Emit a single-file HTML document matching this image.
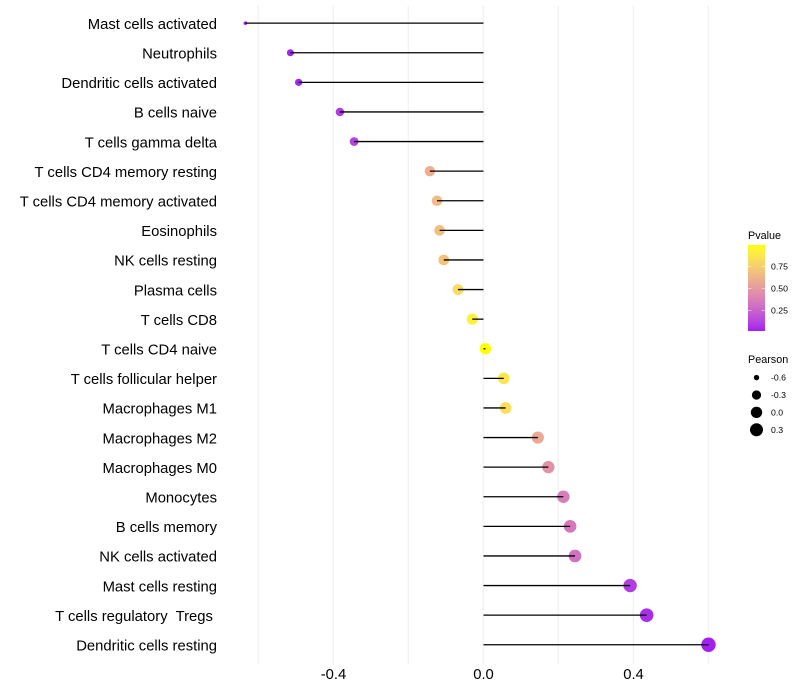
<!DOCTYPE html>
<html lang="en">
<head>
<meta charset="utf-8">
<title>Immune cell correlation lollipop chart</title>
<style>
html,body{margin:0;padding:0;background:#fff;}
svg{display:block;font-family:"Liberation Sans",sans-serif;}
text{white-space:pre;}
</style>
</head>
<body>
<svg id="chart" width="800" height="700" viewBox="0 0 800 700" xmlns="http://www.w3.org/2000/svg">
  <defs>
    <linearGradient id="pvalue-gradient" x1="0" y1="1" x2="0" y2="0"></linearGradient>
  </defs>
</svg>
<script>
const categories = ["Mast cells activated","Neutrophils","Dendritic cells activated","B cells naive","T cells gamma delta","T cells CD4 memory resting","T cells CD4 memory activated","Eosinophils","NK cells resting","Plasma cells","T cells CD8","T cells CD4 naive","T cells follicular helper","Macrophages M1","Macrophages M2","Macrophages M0","Monocytes","B cells memory","NK cells activated","Mast cells resting","T cells regulatory  Tregs ","Dendritic cells resting"];
const pearsonValues = [-0.635,-0.515,-0.493,-0.383,-0.345,-0.143,-0.124,-0.117,-0.106,-0.068,-0.03,0.005,0.054,0.059,0.145,0.173,0.213,0.231,0.244,0.391,0.435,0.6];
const pValues = [0.001,0.012,0.02,0.08,0.11,0.6,0.66,0.68,0.7,0.82,0.93,1.0,0.87,0.83,0.57,0.46,0.36,0.33,0.3,0.09,0.04,0.002];
const xTicks = [-0.4,0,0.4];
const xGrid = [-0.6,-0.4,-0.2,0,0.2,0.4,0.6];
const pvalueLegendTicks = [0.25,0.5,0.75];
const pearsonLegendValues = [-0.6,-0.3,0,0.3];

const svg = document.getElementById('chart');
const NS = 'http://www.w3.org/2000/svg';

function xScale(v){ return 483.5 + v * 375; }
function yScale(i){ return 23.15 + i * 29.6; }
function pvalueLegendY(p){ return 332.5 - p * 88; }
function pearsonLegendY(i){ return 377.6 + i * 17.4; }
function sizeScale(v){
  const lo = Math.min(...pearsonValues), hi = Math.max(...pearsonValues);
  const t = Math.max(0, Math.min(1, (v - lo) / (hi - lo)));
  return 1.8 + Math.sqrt(t) * 5.4;
}

function srgbToLab(c){
  const l = c.map(v => { v /= 255; return v > 0.04045 ? Math.pow((v + 0.055) / 1.055, 2.4) : v / 12.92; });
  const X = (0.4124*l[0]+0.3576*l[1]+0.1805*l[2]) / 0.95047;
  const Y = (0.2126*l[0]+0.7152*l[1]+0.0722*l[2]);
  const Z = (0.0193*l[0]+0.1192*l[1]+0.9505*l[2]) / 1.08883;
  const f = t => t > 0.008856 ? Math.cbrt(t) : 7.787 * t + 16 / 116;
  return [116*f(Y)-16, 500*(f(X)-f(Y)), 200*(f(Y)-f(Z))];
}
function labToHex(L){
  const fy = (L[0]+16)/116, fx = fy + L[1]/500, fz = fy - L[2]/200;
  const g = t => t*t*t > 0.008856 ? t*t*t : (t - 16/116) / 7.787;
  const X = g(fx)*0.95047, Y = g(fy), Z = g(fz)*1.08883;
  const lin = [3.2406*X-1.5372*Y-0.4986*Z, -0.9689*X+1.8758*Y+0.0415*Z, 0.0557*X-0.2040*Y+1.0570*Z];
  return '#' + lin.map(v => {
    v = Math.max(0, Math.min(1, v));
    v = v > 0.0031308 ? 1.055*Math.pow(v, 1/2.4)-0.055 : 12.92*v;
    return Math.round(v*255).toString(16).padStart(2,'0');
  }).join('');
}
const labLow = srgbToLab([160,32,240]);
const labHigh = srgbToLab([255,255,0]);
function colorScale(p){
  return labToHex(labLow.map((v,i) => v + (labHigh[i]-v) * p));
}

function make(tag, attrs, parent){
  const el = document.createElementNS(NS, tag);
  for (const k in attrs) el.setAttribute(k, attrs[k]);
  (parent || svg).appendChild(el);
  return el;
}

// gridlines
xGrid.forEach(v => {
  const line = make('line', {x1:xScale(v)-0.2, x2:xScale(v)-0.2, y1:5.5, y2:664, stroke:'#f0f0f0', 'stroke-width':1.2});
  
  
});

// points, then stems on top
categories.forEach((name, i) => {
  const dot = make('circle', {cx:xScale(pearsonValues[i]), cy:yScale(i), r:sizeScale(pearsonValues[i]), fill:colorScale(pValues[i])});
  
  
});
categories.forEach((name, i) => {
  const stem = make('line', {x1:xScale(0), x2:xScale(pearsonValues[i]), y1:yScale(i), y2:yScale(i), stroke:'#000', 'stroke-width':1.3});
  
  
  const label = make('text', {x:217, y:yScale(i)+5.7, 'text-anchor':'end', 'font-size':14.82, fill:'#000'});
  label.textContent = name;
  
  
});

// x tick labels
xTicks.forEach(v => {
  const t = make('text', {x:xScale(v), y:679, 'text-anchor':'middle', 'font-size':14.82, fill:'#000'});
  t.textContent = v.toFixed(1);
  
  
});

// Pvalue legend
const grad = document.getElementById('pvalue-gradient');
for (let s = 0; s <= 20; s++) {
  const stop = make('stop', {offset:(s/20), 'stop-color':colorScale(s/20)}, grad);
}
const pvTitle = make('text', {x:748, y:239, 'font-size':10.8, fill:'#000'});
pvTitle.textContent = 'Pvalue';


const bar = make('rect', {x:748, y:245, width:17, height:86, fill:'url(#pvalue-gradient)'});


pvalueLegendTicks.forEach(p => {
  const y = pvalueLegendY(p);
  const a = make('line', {x1:748, x2:751.4, y1:y, y2:y, stroke:'#fff', 'stroke-width':0.5});
  
  
  const b = make('line', {x1:761.6, x2:765, y1:y, y2:y, stroke:'#fff', 'stroke-width':0.5});
  
  
  const t = make('text', {x:771, y:y+3, 'font-size':8.7, fill:'#000'});
  t.textContent = p.toFixed(2);
  
  
});

// Pearson legend
const prTitle = make('text', {x:748, y:363, 'font-size':10.8, fill:'#000'});
prTitle.textContent = 'Pearson';


pearsonLegendValues.forEach((v, i) => {
  const y = pearsonLegendY(i);
  const c = make('circle', {cx:756.5, cy:y, r:sizeScale(v), fill:'#000'});
  
  
  const t = make('text', {x:771, y:y+3, 'font-size':8.7, fill:'#000'});
  t.textContent = v.toFixed(1);
  
  
});
</script>
</body>
</html>
